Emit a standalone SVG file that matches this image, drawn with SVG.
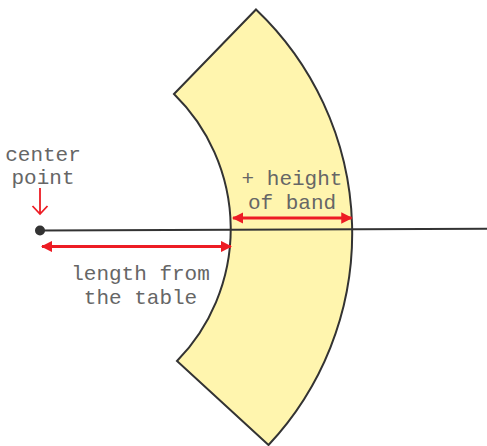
<svg xmlns="http://www.w3.org/2000/svg" width="487" height="446" viewBox="0 0 487 446">
<defs>
<marker id="ah" viewBox="0 0 10 10" refX="9" refY="5" markerWidth="3.8" markerHeight="3.8" orient="auto-start-reverse" markerUnits="strokeWidth">
<path d="M0,0 L10,5 L0,10 Z" fill="#ed1c24"/>
</marker>
<style>
.lbl{font-family:"Liberation Mono","Courier New",monospace;font-size:21px;fill:#666;text-anchor:middle}
.red{stroke:#ed1c24;stroke-width:3;fill:none}
</style>
</defs>
<rect width="487" height="446" fill="#fff"/>
<g id="band">
<path d="M174,94 L256,9.5 A309,309 0 0 1 268.5,445 L177,361 A189,189 0 0 0 174,94 Z" fill="#fff5ae" stroke="#333" stroke-width="2" stroke-linejoin="miter"/>
</g>
<g id="connectors">
<line x1="40" y1="230.5" x2="487" y2="228.8" stroke="#333" stroke-width="2"/>
<line class="red" x1="42" y1="246.5" x2="231" y2="246.5" marker-start="url(#ah)" marker-end="url(#ah)"/>
<line class="red" x1="233" y1="218" x2="351.5" y2="218" marker-start="url(#ah)" marker-end="url(#ah)"/>
<path d="M40,188 L40,214 M32.5,206 L40,214 L47.5,206" stroke="#ed1c24" stroke-width="1.8" fill="none"/>
</g>
<g id="center-point">
<circle cx="40" cy="230.5" r="5" fill="#333"/>
<text class="lbl" x="43" y="160.5">center</text>
<text class="lbl" x="43" y="184.3">point</text>
</g>
<g id="length-label">
<text class="lbl" x="140.5" y="280">length from</text>
<text class="lbl" x="140.5" y="303.5">the table</text>
</g>
<g id="height-label">
<text class="lbl" x="292" y="185">+ height</text>
<text class="lbl" x="292" y="208.5">of band</text>
</g>
</svg>
